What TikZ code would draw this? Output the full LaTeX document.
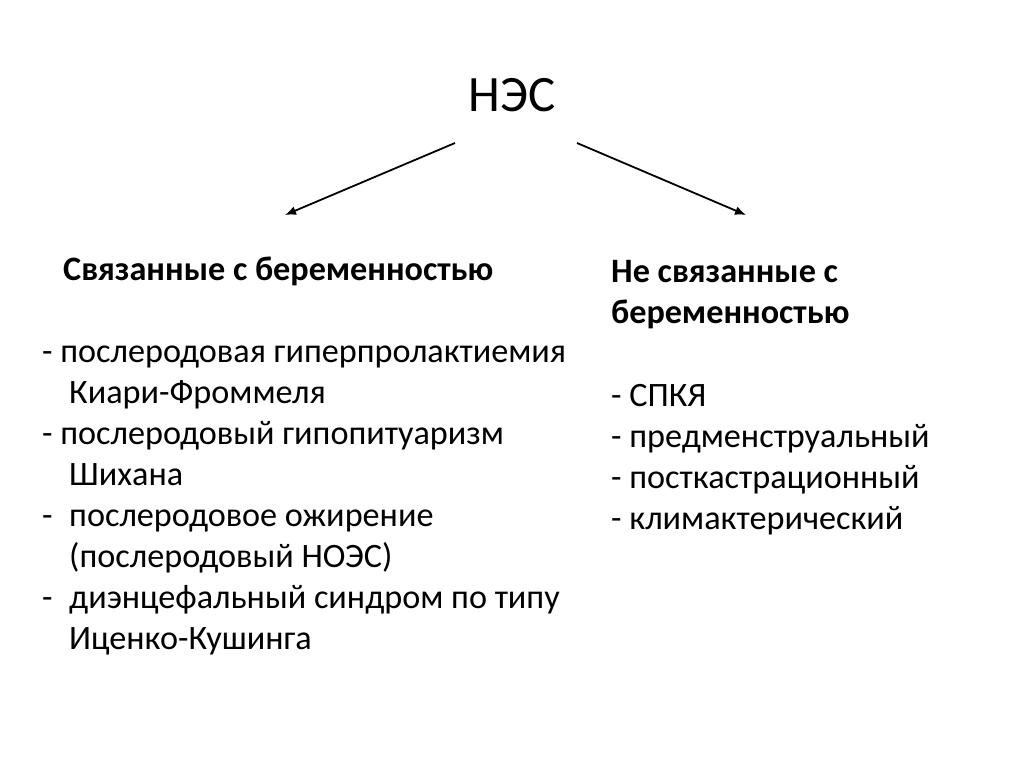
\documentclass[tikz,border=0pt]{standalone}
\usepackage{fontspec}
\setmainfont{Carlito}
\usetikzlibrary{arrows.meta}
\begin{document}
\begin{tikzpicture}[x=1pt,y=-1pt,
  txt/.style={anchor=base west,inner sep=0pt,font=\fontsize{34.2}{40}\selectfont},
  head/.style={txt,font=\fontsize{34.2}{40}\selectfont\bfseries},
  arr/.style={line width=1.8pt,-{Latex[length=11pt,width=9pt]}}]
\useasboundingbox[fill=white] (0,0) rectangle (1024,767);
\node[anchor=base,inner sep=0pt,font=\fontsize{51}{60}\selectfont] (t) at (512,112) {НЭС};
\coordinate (l0) at (455,143);
\coordinate (l1) at (285,215);
\coordinate (r0) at (577,143);
\coordinate (r1) at (746,215);
\draw[arr] (l0) -- (l1);
\draw[arr] (r0) -- (r1);
% left column
\node[head] (lh) at (63,280) {Связанные с беременностью};
\node[txt] (a1) at (42,362) {- послеродовая гиперпролактиемия};
\node[txt] (a2) at (69,403) {Киари-Фроммеля};
\node[txt] (b1) at (42,444) {- послеродовый гипопитуаризм};
\node[txt] (b2) at (69,485) {Шихана};
\node[txt] (c0) at (42,526) {-};
\node[txt] (c1) at (69,526) {послеродовое ожирение};
\node[txt] (c2) at (69,567) {(послеродовый НОЭС)};
\node[txt] (d0) at (42,608) {-};
\node[txt] (d1) at (69,608) {диэнцефальный синдром по типу};
\node[txt] (d2) at (69,649) {Иценко-Кушинга};
% right column
\node[head] (rh1) at (611,282) {Не связанные с};
\node[head] (rh2) at (611,323) {беременностью};
\node[txt] (e1) at (611,406) {- СПКЯ};
\node[txt] (e2) at (611,447) {- предменструальный};
\node[txt] (e3) at (611,488) {- посткастрационный};
\node[txt] (e4) at (611,529) {- климактерический};
\end{tikzpicture}
\end{document}
